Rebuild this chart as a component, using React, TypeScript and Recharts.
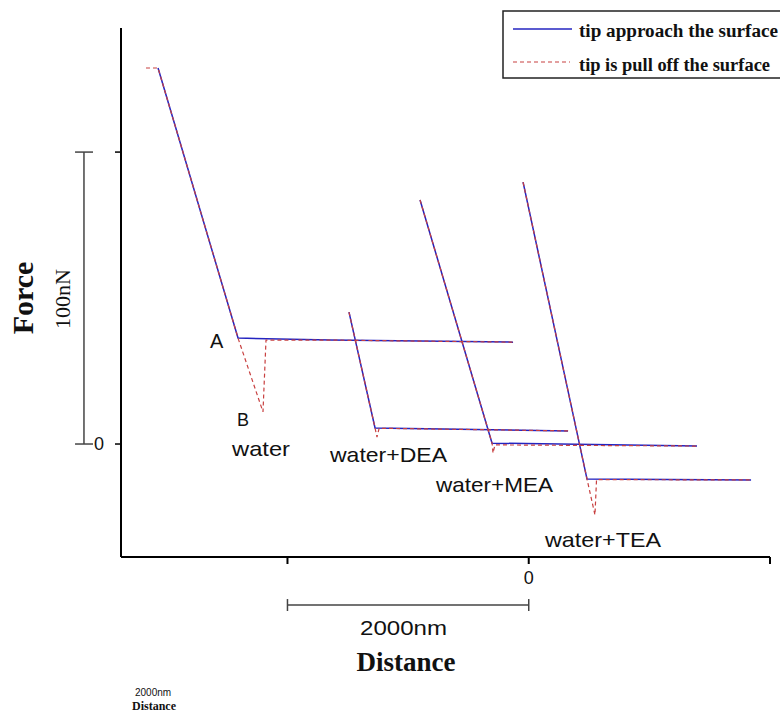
import React from 'react';
import { LineChart, Line, XAxis, YAxis, ReferenceLine } from 'recharts';

// Axis setup (distance in nm, force in nN)
const xDomain: [number, number] = [-3380, 2000];
const yDomain: [number, number] = [-38.7, 142.5];
const xTicks = [-2000, 0, 2000];
const yTicks = [0, 100];
const xTickLabels: Record<number, string> = { 0: '0' };
const yTickLabels: Record<number, string> = { 0: '0' };

// Force curves: approach (blue) and retract (red dashed)
const waterApproach = [
  { x: -3073, y: 128.8 },
  { x: -2410, y: 36.3 },
  { x: -1647, y: 35.6 },
  { x: -130, y: 34.9 },
];
const waterRetract = [
  { x: -3173, y: 128.8 },
  { x: -3073, y: 128.8 },
  { x: -2410, y: 36.3 },
  { x: -2203, y: 11.0 },
  { x: -2178, y: 35.6 },
  { x: -1647, y: 35.6 },
  { x: -130, y: 34.9 },
];
const deaApproach = [
  { x: -1490, y: 45.2 },
  { x: -1274, y: 5.5 },
  { x: 326, y: 4.5 },
];
const deaRetract = [
  { x: -1490, y: 45.2 },
  { x: -1274, y: 5.5 },
  { x: -1258, y: 2.4 },
  { x: -1240, y: 5.4 },
  { x: 326, y: 4.5 },
];
const meaApproach = [
  { x: -901, y: 83.6 },
  { x: -304, y: 0.3 },
  { x: 1395, y: -0.7 },
];
const meaRetract = [
  { x: -901, y: 83.6 },
  { x: -304, y: 0.3 },
  { x: -296, y: -3.1 },
  { x: -280, y: -0.3 },
  { x: 1395, y: -0.7 },
];
const teaApproach = [
  { x: -47, y: 89.7 },
  { x: 483, y: -12.0 },
  { x: 1843, y: -12.3 },
];
const teaRetract = [
  { x: -47, y: 89.7 },
  { x: 483, y: -12.0 },
  { x: 549, y: -24.3 },
  { x: 562, y: -12.2 },
  { x: 1843, y: -12.3 },
];

// Scale bars
const forceBarX = -3687;
const forceBarCap = [-3761, -3612];
const forceBar = [0, 100];
const distBarY = -55.1;
const distBarCap = [-53.1, -57.2];
const distBar = [-2000, 0];

const BLUE = '#2424c0';
const RED = '#c84040';
const SANS = '"Liberation Sans", Arial, sans-serif';
const SERIF = '"Liberation Serif", "Times New Roman", serif';

const XTick = (props: any) => {
  const { x, y, payload } = props;
  return (
    <text x={x} y={y} dy={18} textAnchor="middle" fontFamily={SANS} fontSize={18} fill="#111">
      {xTickLabels[payload.value] ?? ''}
    </text>
  );
};

const YTick = (props: any) => {
  const { x, y, payload } = props;
  return (
    <text x={x} y={y} dy={6} textAnchor="end" fontFamily={SANS} fontSize={18} fill="#111">
      {yTickLabels[payload.value] ?? ''}
    </text>
  );
};

const series = [
  { key: 'wa', data: waterApproach, kind: 'a' },
  { key: 'da', data: deaApproach, kind: 'a' },
  { key: 'ma', data: meaApproach, kind: 'a' },
  { key: 'ta', data: teaApproach, kind: 'a' },
  { key: 'wr', data: waterRetract, kind: 'r' },
  { key: 'dr', data: deaRetract, kind: 'r' },
  { key: 'mr', data: meaRetract, kind: 'r' },
  { key: 'tr', data: teaRetract, kind: 'r' },
];

export default function App() {
  return (
    <div style={{ position: 'absolute', left: 0, top: 0, width: 780, height: 715, background: '#fff' }}>
      <LineChart width={780} height={715} margin={{ top: 28, right: 10, bottom: 128, left: 81 }}>
        <XAxis
          type="number"
          dataKey="x"
          domain={xDomain}
          ticks={xTicks}
          allowDataOverflow
          height={30}
          tickSize={7}
          tick={XTick}
          axisLine={{ stroke: '#000', strokeWidth: 2 }}
          tickLine={{ stroke: '#000', strokeWidth: 2 }}
        />
        <YAxis
          type="number"
          dataKey="y"
          domain={yDomain}
          ticks={yTicks}
          allowDataOverflow
          width={40}
          tickSize={6}
          tickMargin={11}
          tick={YTick}
          axisLine={{ stroke: '#000', strokeWidth: 2 }}
          tickLine={{ stroke: '#000', strokeWidth: 1.5 }}
        />
        {series.map((s) => (
          <Line
            key={s.key}
            data={s.data}
            dataKey="y"
            type="linear"
            dot={false}
            activeDot={false}
            isAnimationActive={false}
            stroke={s.kind === 'a' ? BLUE : RED}
            strokeWidth={s.kind === 'a' ? 1.5 : 1.2}
            strokeDasharray={s.kind === 'a' ? undefined : '4 3'}
            name={s.kind === 'a' ? 'tip approach the surface' : 'tip is pull off the surface'}
          />
        ))}

        {/* force scale bar */}
        <ReferenceLine segment={[{ x: forceBarX, y: forceBar[0] }, { x: forceBarX, y: forceBar[1] }]} ifOverflow="visible" stroke="#444" strokeWidth={1.5} />
        <ReferenceLine segment={[{ x: forceBarCap[0], y: forceBar[0] }, { x: forceBarCap[1], y: forceBar[0] }]} ifOverflow="visible" stroke="#444" strokeWidth={1.5} />
        <ReferenceLine segment={[{ x: forceBarCap[0], y: forceBar[1] }, { x: forceBarCap[1], y: forceBar[1] }]} ifOverflow="visible" stroke="#444" strokeWidth={1.5} />
        {/* distance scale bar */}
        <ReferenceLine segment={[{ x: distBar[0], y: distBarY }, { x: distBar[1], y: distBarY }]} ifOverflow="visible" stroke="#444" strokeWidth={1.5} />
        <ReferenceLine segment={[{ x: distBar[0], y: distBarCap[0] }, { x: distBar[0], y: distBarCap[1] }]} ifOverflow="visible" stroke="#444" strokeWidth={1.5} />
        <ReferenceLine segment={[{ x: distBar[1], y: distBarCap[0] }, { x: distBar[1], y: distBarCap[1] }]} ifOverflow="visible" stroke="#444" strokeWidth={1.5} />

        {/* annotations */}
        <g fontFamily={SANS} fill="#111">
          <text x={210} y={348} fontSize={20}>A</text>
          <text x={237} y={426} fontSize={18}>B</text>
          <text x={232} y={456} fontSize={21} textLength={58} lengthAdjust="spacingAndGlyphs">water</text>
          <text x={330} y={462} fontSize={21} textLength={117} lengthAdjust="spacingAndGlyphs">water+DEA</text>
          <text x={436} y={492} fontSize={21} textLength={117} lengthAdjust="spacingAndGlyphs">water+MEA</text>
          <text x={545} y={547} fontSize={21} textLength={116} lengthAdjust="spacingAndGlyphs">water+TEA</text>
          <text x={360} y={635} fontSize={21} textLength={87} lengthAdjust="spacingAndGlyphs">2000nm</text>
          <text x={135} y={696} fontSize={10}>2000nm</text>
        </g>
        <g fontFamily={SERIF} fill="#111">
          <text x={406} y={671} fontSize={27} fontWeight="bold" textAnchor="middle">Distance</text>
          <text x={154} y={710} fontSize={12} fontWeight="bold" textAnchor="middle">Distance</text>
          <text transform="translate(33,298) rotate(-90)" fontSize={30} fontWeight="bold" textAnchor="middle">Force</text>
          <text transform="translate(70,299) rotate(-90)" fontSize={22} textAnchor="middle">100nN</text>
        </g>

        {/* legend */}
        <g>
          <rect x={503} y={11} width={300} height={67} fill="#fff" stroke="#222" strokeWidth={1.5} />
          <line x1={513} y1={29} x2={572} y2={29} stroke={BLUE} strokeWidth={1.4} />
          <line x1={513} y1={62} x2={570} y2={62} stroke={RED} strokeWidth={1.2} strokeDasharray="4 3" />
          <text x={579} y={37} fontFamily={SERIF} fontWeight="bold" fontSize={18} fill="#111" textLength={199} lengthAdjust="spacingAndGlyphs">tip approach the surface</text>
          <text x={579} y={71} fontFamily={SERIF} fontWeight="bold" fontSize={18} fill="#111" textLength={191} lengthAdjust="spacingAndGlyphs">tip is pull off the surface</text>
        </g>
      </LineChart>
    </div>
  );
}
